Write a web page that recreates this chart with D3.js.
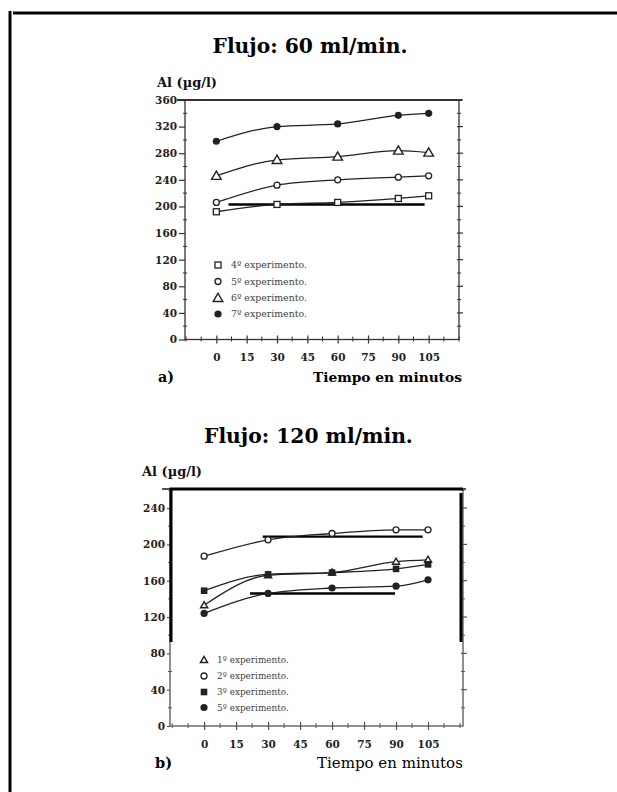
<!DOCTYPE html>
<html><head><meta charset="utf-8">
<script src="https://cdn.jsdelivr.net/npm/d3@7"></script>
<style>body{margin:0;background:#fff}svg{display:block}</style>
</head><body>
<script>
// ---------- data ----------
const times = [0, 30, 60, 90, 105];
const xTickValues = [0, 15, 30, 45, 60, 75, 90, 105];

// a) Flujo 60 ml/min
const topNames = ["4º experimento.", "5º experimento.", "6º experimento.", "7º experimento."];
const topExp4 = [192, 203, 206, 212, 216];
const topExp5 = [206, 232, 240, 244, 246];
const topExp6 = [246, 270, 275, 284, 281];
const topExp7 = [298, 320, 324, 337, 340];
const topYTicks = [0, 40, 80, 120, 160, 200, 240, 280, 320, 360];
const topRefLines = [{ y: 203, x0: 6, x1: 103 }];

// b) Flujo 120 ml/min
const botNames = ["1º experimento.", "2º experimento.", "3º experimento.", "5º experimento."];
const botExp1 = [133, 166, 169, 181, 183];
const botExp2 = [187, 205, 212, 216, 216];
const botExp3 = [149, 167, 169, 173, 178];
const botExp5 = [124, 146, 152, 154, 161];
const botYTicks = [0, 40, 80, 120, 160, 200, 240];
const botRefLines = [{ y: 208.5, x0: 27.5, x1: 102.5 }, { y: 146, x0: 21.5, x1: 89.5 }];

// ---------- drawing ----------
const W = 617, H = 792;
const svg = d3.select("body").append("svg").attr("width", W).attr("height", H);
svg.append("rect").attr("width", W).attr("height", H).attr("fill", "#fff");
const SERIF = "'DejaVu Serif', 'Liberation Serif', serif";
const INK = "#222";

function fitText(sel, target) {
  const n = sel.node();
  const fs = parseFloat(sel.attr("font-size"));
  const len = n.getComputedTextLength();
  if (len > 0) sel.attr("font-size", (fs * target / len).toFixed(2));
  return sel;
}
function addText(x, y, str, size, weight, anchor, width, color) {
  const t = svg.append("text").attr("x", x).attr("y", y).text(str)
    .attr("font-family", SERIF).attr("font-size", size)
    .attr("font-weight", weight).attr("text-anchor", anchor || "start")
    .attr("fill", color || "#111");
  if (width) fitText(t, width);
  return t;
}

// page frame
svg.append("line").attr("x1", 10).attr("x2", 10).attr("y1", 11).attr("y2", H).attr("stroke", "#000").attr("stroke-width", 3);
svg.append("line").attr("x1", 13).attr("x2", W).attr("y1", 13).attr("y2", 13).attr("stroke", "#000").attr("stroke-width", 3);

// symbols
function drawSymbol(g, kind, cx, cy) {
  if (kind === "square") {
    g.append("rect").attr("x", cx - 3).attr("y", cy - 3).attr("width", 6).attr("height", 6)
      .attr("fill", "#fff").attr("stroke", INK).attr("stroke-width", 1.3);
  } else if (kind === "fsquare") {
    g.append("rect").attr("x", cx - 3.3).attr("y", cy - 3.3).attr("width", 6.6).attr("height", 6.6)
      .attr("fill", INK);
  } else if (kind === "circle") {
    g.append("circle").attr("cx", cx).attr("cy", cy).attr("r", 3)
      .attr("fill", "#fff").attr("stroke", INK).attr("stroke-width", 1.3);
  } else if (kind === "fcircle") {
    g.append("circle").attr("cx", cx).attr("cy", cy).attr("r", 3.6).attr("fill", INK);
  } else if (kind === "triangle") {
    g.append("path").attr("d", d3.symbol().type(d3.symbolTriangle).size(40)())
      .attr("transform", `translate(${cx},${cy + 0.8})`)
      .attr("fill", "#fff").attr("stroke", INK).attr("stroke-width", 1.4);
  } else if (kind === "striangle") {
    g.append("path").attr("d", d3.symbol().type(d3.symbolTriangle).size(22)())
      .attr("transform", `translate(${cx},${cy + 0.5})`)
      .attr("fill", "#fff").attr("stroke", INK).attr("stroke-width", 1.4);
  }
}

function drawPanel(cfg) {
  const x = d3.scaleLinear().domain(cfg.xDomain).range([cfg.left, cfg.right]);
  const y = d3.scaleLinear().domain(cfg.yDomain).range([cfg.bottom, cfg.top]);
  const g = svg.append("g");

  // frame
  g.append("rect").attr("x", cfg.left).attr("y", cfg.top)
    .attr("width", cfg.right - cfg.left).attr("height", cfg.bottom - cfg.top)
    .attr("fill", "none").attr("stroke", cfg.frameColor).attr("stroke-width", 1.3);
  g.append("line").attr("x1", cfg.left - 8).attr("x2", cfg.right + 3).attr("y1", cfg.top).attr("y2", cfg.top)
    .attr("stroke", cfg.frameColor).attr("stroke-width", 2);

  // left axis
  const yAxis = d3.axisLeft(y).tickValues(cfg.yTicks).tickSize(cfg.yTickLen).tickPadding(2)
    .tickFormat(d3.format("d"));
  const ga = g.append("g").attr("transform", `translate(${cfg.left},0)`).call(yAxis);
  ga.select(".domain").remove();
  ga.selectAll("line").attr("stroke", cfg.frameColor).attr("stroke-width", 1.2);
  ga.selectAll("text").attr("font-family", SERIF).attr("font-size", cfg.tickFont)
    .attr("font-weight", "bold").attr("fill", "#222");
  // minor y ticks
  const yMinor = d3.range(cfg.yDomain[0], cfg.yDomain[1], 20).filter(v => v % 40 !== 0);
  g.selectAll(null).data(yMinor).enter().append("line")
    .attr("x1", cfg.left - 2).attr("x2", cfg.left + 2).attr("y1", d => y(d)).attr("y2", d => y(d))
    .attr("stroke", cfg.frameColor).attr("stroke-width", 1);
  // right ticks
  g.selectAll(null).data(cfg.yTicks.filter(v => v > 0)).enter().append("line")
    .attr("x1", cfg.right - 2).attr("x2", cfg.right + 4).attr("y1", d => y(d)).attr("y2", d => y(d))
    .attr("stroke", cfg.frameColor).attr("stroke-width", 1.2);
  g.selectAll(null).data(yMinor).enter().append("line")
    .attr("x1", cfg.right - 2).attr("x2", cfg.right + 2).attr("y1", d => y(d)).attr("y2", d => y(d))
    .attr("stroke", cfg.frameColor).attr("stroke-width", 1);

  // bottom axis
  const xAxis = d3.axisBottom(x).tickValues(xTickValues).tickSize(4).tickPadding(cfg.xPad);
  const gx = g.append("g").attr("transform", `translate(0,${cfg.bottom})`).call(xAxis);
  gx.select(".domain").remove();
  gx.selectAll("line").attr("stroke", cfg.frameColor).attr("stroke-width", 1.2).attr("y1", -4);
  gx.selectAll("text").attr("font-family", SERIF).attr("font-size", cfg.tickFont)
    .attr("font-weight", "bold").attr("fill", "#222");
  const xMinor = d3.range(-15, 121, 7.5).filter(v => xTickValues.indexOf(v) < 0);
  g.selectAll(null).data(xMinor).enter().append("line")
    .attr("x1", d => x(d)).attr("x2", d => x(d)).attr("y1", cfg.bottom - 3).attr("y2", cfg.bottom + 2)
    .attr("stroke", cfg.frameColor).attr("stroke-width", 1);

  // reference strokes
  g.selectAll(null).data(cfg.refLines).enter().append("line")
    .attr("x1", d => x(d.x0)).attr("x2", d => x(d.x1)).attr("y1", d => y(d.y)).attr("y2", d => y(d.y))
    .attr("stroke", "#000").attr("stroke-width", 2.4);

  // series
  const line = d3.line().x((d, i) => x(times[i])).y(d => y(d)).curve(d3.curveMonotoneX);
  cfg.series.forEach(s => {
    g.append("path").attr("d", line(s.values)).attr("fill", "none")
      .attr("stroke", INK).attr("stroke-width", 1.3);
  });
  cfg.series.forEach(s => {
    s.values.forEach((v, i) => drawSymbol(g, s.symbol, x(times[i]), y(v)));
  });

  // legend
  cfg.series.forEach((s, i) => {
    const ly = cfg.legendY[i];
    drawSymbol(g, s.legendSymbol || s.symbol, cfg.legendX, ly);
    const t = g.append("text").attr("x", cfg.legendX + 13).attr("y", ly + 3).text(s.name)
      .attr("font-family", SERIF).attr("font-size", 8.5).attr("fill", "#444");
    fitText(t, cfg.legendW);
  });
  return { x, y, g };
}

// ---- panel a ----
addText(310, 53, "Flujo: 60 ml/min.", 20, "bold", "middle", 195, "#000");
addText(157, 87, "Al (µg/l)", 11, "bold", "start", 60);
drawPanel({
  left: 185, right: 459, top: 100, bottom: 339.5,
  xDomain: [-15.5, 120], yDomain: [0, 360], yTicks: topYTicks,
  yTickLen: 6, tickFont: 10.5, xPad: 10, frameColor: "#333",
  refLines: topRefLines,
  series: [
    { name: topNames[0], values: topExp4, symbol: "square" },
    { name: topNames[1], values: topExp5, symbol: "circle" },
    { name: topNames[2], values: topExp6, symbol: "triangle" },
    { name: topNames[3], values: topExp7, symbol: "fcircle" }
  ],
  legendX: 218, legendY: [265, 281.5, 298, 314], legendW: 76
});
addText(158, 382, "a)", 14, "bold", "start", 16, "#000");
addText(313, 382, "Tiempo en minutos", 12, "bold", "start", 149, "#000");

// ---- panel b ----
addText(308.5, 443, "Flujo: 120 ml/min.", 20, "bold", "middle", 209, "#000");
addText(142, 476, "Al (µg/l)", 11, "bold", "start", 60);
const pb = drawPanel({
  left: 170, right: 463, top: 489, bottom: 726,
  xDomain: [-16, 121.4], yDomain: [0, 261], yTicks: botYTicks,
  yTickLen: 3, tickFont: 10.5, xPad: 11, frameColor: "#555",
  refLines: botRefLines,
  series: [
    { name: botNames[0], values: botExp1, symbol: "striangle" },
    { name: botNames[1], values: botExp2, symbol: "circle" },
    { name: botNames[2], values: botExp3, symbol: "fsquare" },
    { name: botNames[3], values: botExp5, symbol: "fcircle" }
  ],
  legendX: 204, legendY: [660, 676, 692, 707.5], legendW: 72
});
// black overlay frame (top and partial sides)
svg.append("path")
  .attr("d", `M171,642 L171,489 L463,489 M461,493 L461,642`)
  .attr("fill", "none").attr("stroke", "#000").attr("stroke-width", 3);
addText(155, 768, "b)", 14, "bold", "start", 17, "#000");
addText(317, 768, "Tiempo en minutos", 12, "normal", "start", 146, "#000");
</script>
</body></html>
